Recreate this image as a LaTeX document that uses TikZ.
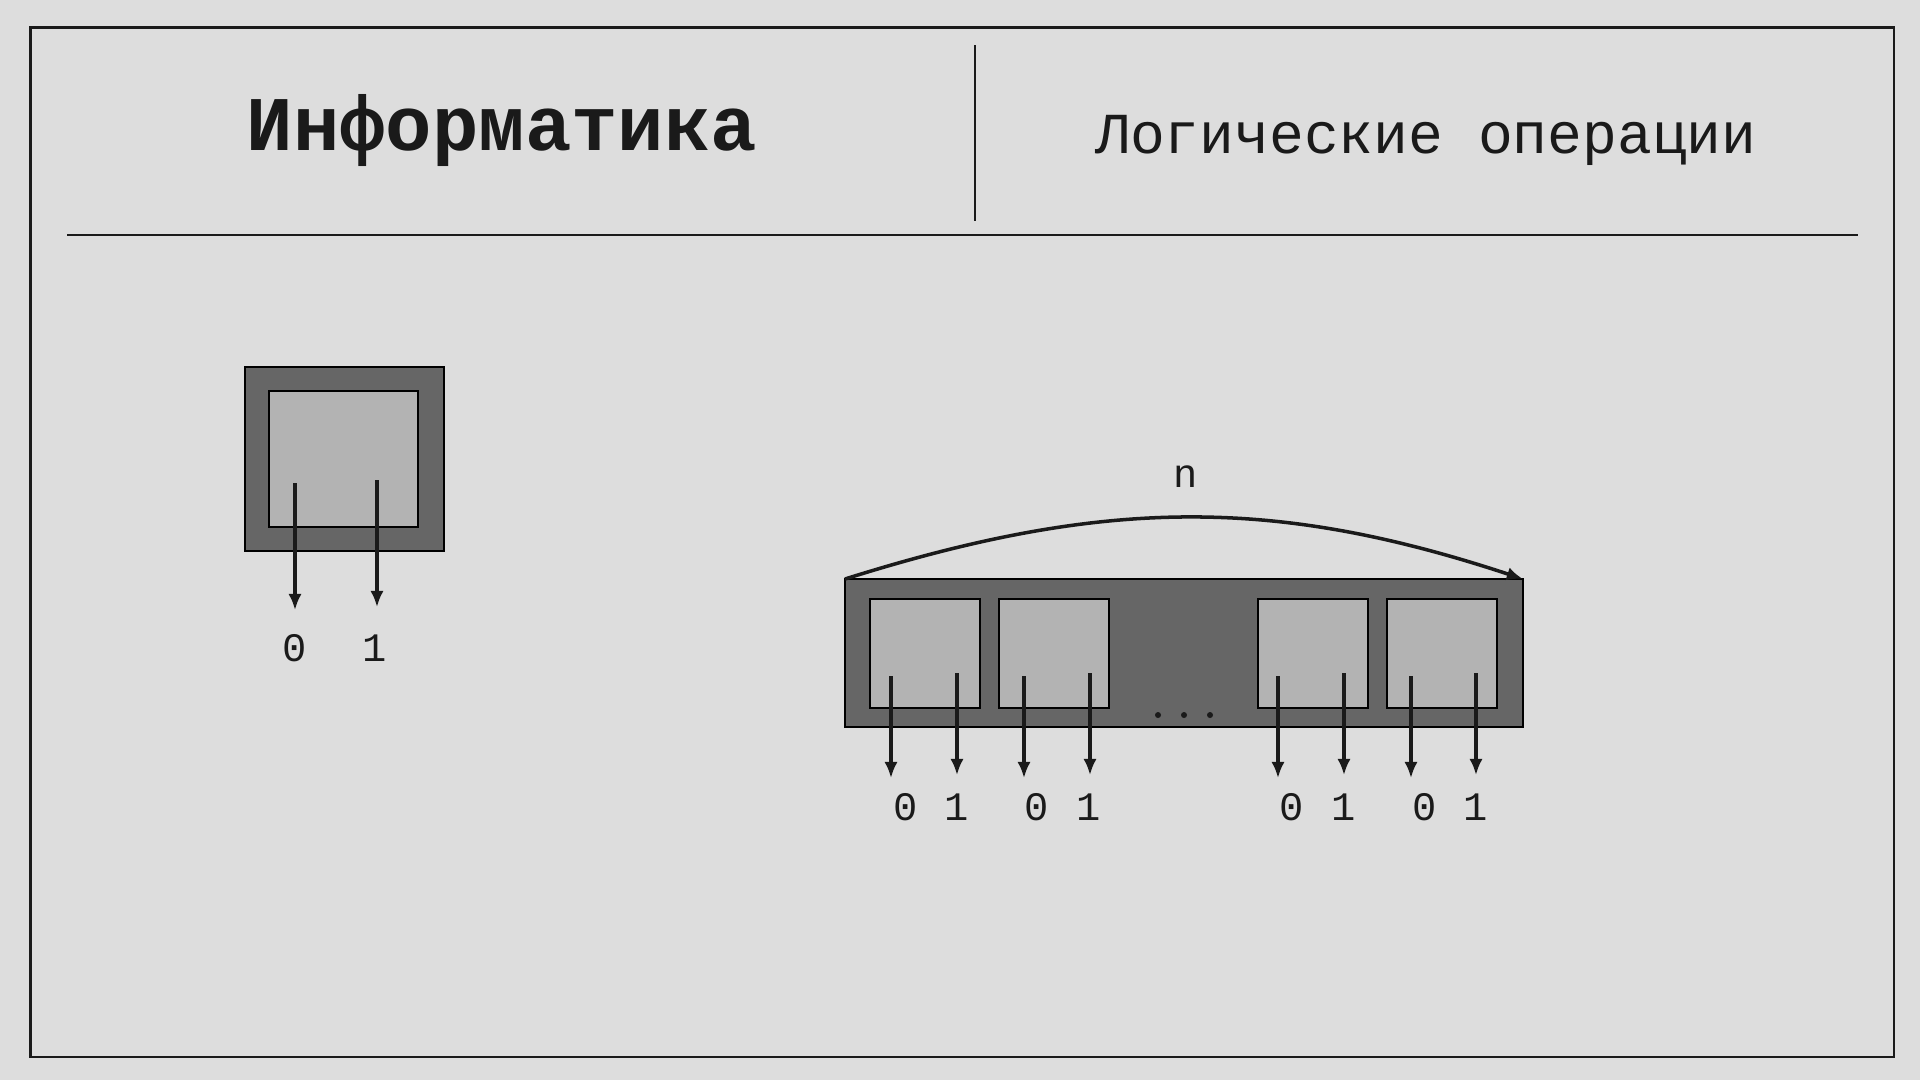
\documentclass[tikz,border=0pt]{standalone}
\usepackage{fontspec}
\setmainfont{Liberation Mono}
\usetikzlibrary{arrows.meta}

\definecolor{bg}{RGB}{221,221,221}
\definecolor{boxdark}{RGB}{102,102,102}
\definecolor{boxlight}{RGB}{179,179,179}
\definecolor{ink}{RGB}{26,26,26}

\tikzset{
  frame/.style={line width=0.8pt, draw=ink},
  outerbox/.style={fill=boxdark, draw=black, line width=0.5pt, inner sep=0pt, outer sep=0pt, anchor=north west},
  cell/.style={fill=boxlight, draw=black, line width=0.5pt, inner sep=0pt, outer sep=0pt, anchor=north west,
    minimum width=11mm, minimum height=10.9mm},
  bit/.style={-{Latex[length=4.6pt,width=3.8pt]}, line width=0.9pt, draw=ink},
  bitlabel/.style={font=\fontsize{11.5}{13}\selectfont, inner sep=1pt, text=ink},
}

\begin{document}
\begin{tikzpicture}[x=0.1mm, y=-0.1mm]

\useasboundingbox (0,0) rectangle (1920,1080);
\fill[bg] (0,0) rectangle (1920,1080);

% frame and header
\draw[frame] (30.6,27.5) rectangle (1894,1057);
\draw[frame] (67,235) -- (1858,235);
\draw[frame] (975,45) -- (975,221);

\node[anchor=base, text=ink, font=\bfseries\fontsize{22}{26}\selectfont] (title) at (502,150) {Информатика};
\node[anchor=base, text=ink, font=\fontsize{16.5}{20}\selectfont] (topic) at (1426,153) {Логические операции};

% one bit
\node[outerbox, minimum width=19.9mm, minimum height=18.4mm] (reg) at (245,367) {};
\node[cell, minimum width=14.9mm, minimum height=13.6mm] (bitcell) at (269,391) {};

\coordinate (s0) at (295,483);
\coordinate (s0e) at (295,610);
\coordinate (s1) at (377,480);
\coordinate (s1e) at (377,607);
\draw[bit] (s0) -- (s0e);
\draw[bit] (s1) -- (s1e);
\node[bitlabel] (sl0) at (295,648) {0};
\node[bitlabel] (sl1) at (375,648) {1};

% n bits
\node[outerbox, minimum width=67.8mm, minimum height=14.8mm] (word) at (845,579) {};
\node[cell] (cellA) at (870,599) {};
\node[cell] (cellB) at (999,599) {};
\node[cell] (cellC) at (1258,599) {};
\node[cell] (cellD) at (1387,599) {};

\fill[ink] (1158,715) circle[radius=0.3mm];
\fill[ink] (1184,715) circle[radius=0.3mm];
\fill[ink] (1210,715) circle[radius=0.3mm];

\draw[ink, line width=1pt, -{Latex[length=4.6pt,width=3.8pt]}] (word.north west) .. controls (1105,497) and (1275,497) .. (word.north east);
\node[bitlabel] (n) at (1186,477) {n};

\coordinate (a0) at (891,676);
\coordinate (a0e) at (891,778);
\coordinate (a1) at (957,673);
\coordinate (a1e) at (957,775);
\coordinate (b0) at (1024,676);
\coordinate (b0e) at (1024,778);
\coordinate (b1) at (1090,673);
\coordinate (b1e) at (1090,775);
\coordinate (c0) at (1278,676);
\coordinate (c0e) at (1278,778);
\coordinate (c1) at (1344,673);
\coordinate (c1e) at (1344,775);
\coordinate (d0) at (1411,676);
\coordinate (d0e) at (1411,778);
\coordinate (d1) at (1476,673);
\coordinate (d1e) at (1476,775);

\draw[bit] (a0) -- (a0e);
\draw[bit] (a1) -- (a1e);
\draw[bit] (b0) -- (b0e);
\draw[bit] (b1) -- (b1e);
\draw[bit] (c0) -- (c0e);
\draw[bit] (c1) -- (c1e);
\draw[bit] (d0) -- (d0e);
\draw[bit] (d1) -- (d1e);

\node[bitlabel] (la0) at (906,807) {0};
\node[bitlabel] (la1) at (957,807) {1};
\node[bitlabel] (lb0) at (1037,807) {0};
\node[bitlabel] (lb1) at (1089,807) {1};
\node[bitlabel] (lc0) at (1292,807) {0};
\node[bitlabel] (lc1) at (1344,807) {1};
\node[bitlabel] (ld0) at (1425,807) {0};
\node[bitlabel] (ld1) at (1476,807) {1};

\end{tikzpicture}
\end{document}
